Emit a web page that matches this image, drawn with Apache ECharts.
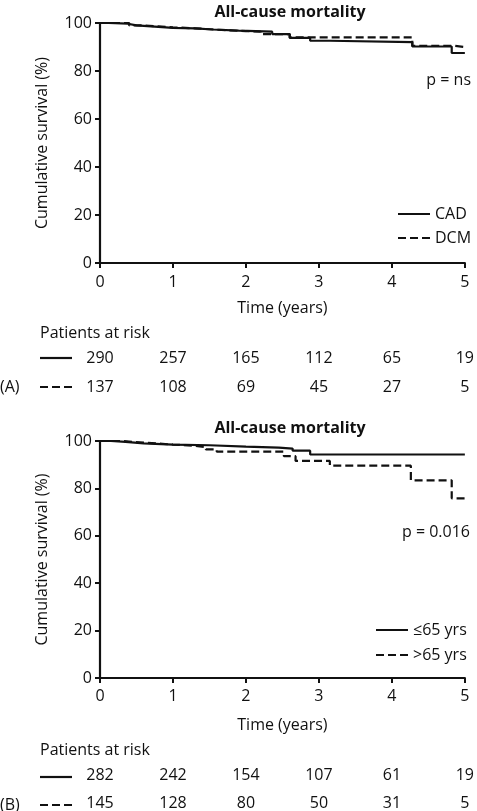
<!DOCTYPE html>
<html>
<head>
<meta charset="utf-8">
<script src="https://cdn.jsdelivr.net/npm/echarts@6/dist/echarts.min.js"></script>
<style>
html,body{margin:0;padding:0;background:#fff;}
#c{width:477px;height:811px;}
</style>
</head>
<body>
<div id="c"></div>
<script>
// ---- Data ----
var titleText = 'All-cause mortality';
var xTicks = [0, 1, 2, 3, 4, 5];
var yTicks = [0, 20, 40, 60, 80, 100];

// Panel A
var namesA = ['CAD', 'DCM'];
var cadCurve = [[0,100],[0.12,99.7],[0.38,99.0],[0.5,98.4],[0.8,98.0],[1.0,97.8],[1.3,97.3],[1.55,96.8],[1.9,96.4],[2.36,95.4],[2.6,93.8],[2.88,92.6],[3.15,92.0],[4.28,90.2],[4.82,87.5],[5,87.5]];
var dcmCurve = [[0,100],[0.4,99.0],[0.6,98.2],[1.0,97.8],[1.3,97.2],[1.6,96.6],[2.0,96.4],[2.2,95.4],[2.6,94.0],[4.28,90.5],[4.85,90.0],[5,90.0]];
var riskA1 = [290, 257, 165, 112, 65, 19];
var riskA2 = [137, 108, 69, 45, 27, 5];
var pA = 'p = ns';

// Panel B
var namesB = ['\u226465 yrs', '>65 yrs'];
var youngCurve = [[0,100],[0.15,99.6],[0.35,99.0],[0.6,98.5],[1.0,98.2],[1.5,97.6],[2.0,97.2],[2.45,96.8],[2.64,95.9],[2.88,94.3],[5,94.3]];
var oldCurve = [[0,100],[0.3,99.3],[0.6,98.5],[1.0,98.0],[1.28,97.4],[1.45,96.5],[1.6,95.5],[2.52,93.6],[2.68,91.6],[3.15,89.6],[4.26,83.4],[4.82,75.8],[5,75.8]];
var riskB1 = [282, 242, 154, 107, 61, 19];
var riskB2 = [145, 128, 80, 50, 31, 5];
var pB = 'p = 0.016';

// ---- Styles ----
var FONT = '"Open Sans", "Liberation Sans", sans-serif';
var FS = 16;
var INK = '#111';
var chart = echarts.init(document.getElementById('c'), null, {renderer: 'canvas'});

function riskAxis(grid, arr, offset) {
  return {
    type: 'value', gridIndex: grid, min: 0, max: 5, interval: 1, position: 'bottom', offset: offset,
    axisLine: {show: false}, axisTick: {show: false}, splitLine: {show: false},
    axisLabel: {show: true, margin: 8, fontFamily: FONT, fontSize: FS, color: INK,
      formatter: function (v) { return String(arr[Math.round(v)]); }}
  };
}
function mainX(grid, gap, margin) {
  return {
    type: 'value', gridIndex: grid, min: 0, max: 5, interval: 1, position: 'bottom',
    name: 'Time (years)', nameLocation: 'middle', nameGap: gap,
    nameTextStyle: {fontFamily: FONT, fontSize: FS, color: INK},
    axisLine: {show: true, onZero: false, lineStyle: {color: INK, width: 2.2}},
    axisTick: {show: true, inside: false, length: 5, lineStyle: {color: INK, width: 2}},
    splitLine: {show: false},
    axisLabel: {margin: margin, fontFamily: FONT, fontSize: FS, color: INK}
  };
}
function mainY(grid) {
  return {
    type: 'value', gridIndex: grid, min: 0, max: 100, interval: 20,
    name: 'Cumulative survival (%)', nameLocation: 'middle', nameGap: 50, nameRotate: 90,
    nameTextStyle: {fontFamily: FONT, fontSize: FS, color: INK},
    axisLine: {show: true, lineStyle: {color: INK, width: 2.2}},
    axisTick: {show: true, inside: false, length: 5, lineStyle: {color: INK, width: 2}},
    splitLine: {show: false},
    axisLabel: {margin: 8, fontFamily: FONT, fontSize: FS, color: INK}
  };
}
function km(name, data, xi, yi, dashed) {
  return {
    name: name, type: 'line', step: 'end', xAxisIndex: xi, yAxisIndex: yi,
    data: data, symbol: 'none', showSymbol: false, silent: true, animation: false,
    lineStyle: {color: INK, width: 2.2, type: dashed ? [8, 4] : 'solid'},
    itemStyle: {color: INK}
  };
}
function txt(x, y, s, opt) {
  opt = opt || {};
  return {type: 'text', x: x, y: y, silent: true, style: {text: s, fill: INK,
    font: (opt.bold ? 'bold ' : '') + (opt.size || FS) + 'px ' + FONT,
    textAlign: opt.align || 'left', textVerticalAlign: 'middle'}};
}
function seg(x1, y, x2, dashed) {
  return {type: 'line', silent: true, shape: {x1: x1, y1: y, x2: x2, y2: y},
    style: {stroke: INK, lineWidth: 2.2, lineDash: dashed ? [8, 4] : null}};
}
function legendOf(names, left, top, gap) {
  return {
    data: names.slice(), orient: 'vertical', left: left, top: top,
    itemWidth: 32, itemHeight: 12, itemGap: gap, selectedMode: false,
    itemStyle: {opacity: 0, borderWidth: 0},
    textStyle: {fontFamily: FONT, fontSize: FS, color: INK}
  };
}

var option = {
  backgroundColor: '#fff',
  animation: false,
  title: [
    {text: titleText, left: 285, top: -1, textAlign: 'center',
      textStyle: {fontFamily: FONT, fontSize: FS, fontWeight: 'bold', color: INK}},
    {text: titleText, left: 285, top: 415, textAlign: 'center',
      textStyle: {fontFamily: FONT, fontSize: FS, fontWeight: 'bold', color: INK}}
  ],
  legend: [legendOf(namesA, 392, 201, 8), legendOf(namesB, 370, 617, 9)],
  grid: [
    {left: 100, top: 23, width: 370, height: 240, containLabel: false},
    {left: 100, top: 441, width: 370, height: 239, containLabel: false}
  ],
  xAxis: [
    mainX(0, 37, 11),
    riskAxis(0, riskA1, 79),
    riskAxis(0, riskA2, 108),
    mainX(1, 39, 10),
    riskAxis(1, riskB1, 81),
    riskAxis(1, riskB2, 109)
  ],
  yAxis: [mainY(0), mainY(1)],
  series: [
    km(namesA[0], cadCurve, 0, 0, false),
    km(namesA[1], dcmCurve, 0, 0, true),
    km(namesB[0], youngCurve, 3, 1, false),
    km(namesB[1], oldCurve, 3, 1, true)
  ],
  graphic: [
    txt(471, 80, pA, {align: 'right'}),
    txt(470, 532, pB, {align: 'right'}),
    txt(40, 333, 'Patients at risk'),
    seg(40, 358, 72, false),
    seg(40, 387, 72, true),
    txt(0, 387, '(A)'),
    txt(40, 750, 'Patients at risk'),
    seg(40, 777, 72, false),
    seg(40, 805, 72, true),
    txt(0, 805, '(B)')
  ]
};
chart.setOption(option);
</script>
</body>
</html>
